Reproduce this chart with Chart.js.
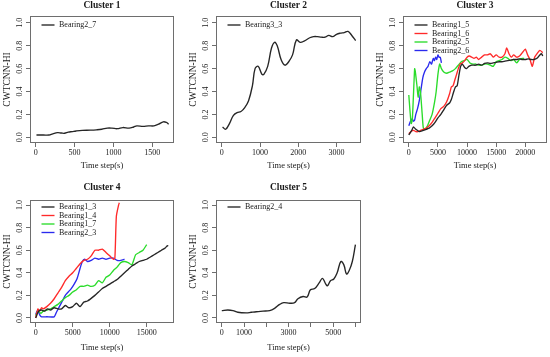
<!DOCTYPE html>
<html>
<head>
<meta charset="utf-8">
<script src="https://cdn.jsdelivr.net/npm/chart.js@4/dist/chart.umd.min.js"></script>
<style>
  html, body { margin: 0; padding: 0; background: #fff; overflow: hidden; }
  canvas { position: absolute; }
</style>
</head>
<body>
<canvas id="c1"></canvas>
<canvas id="c2"></canvas>
<canvas id="c3"></canvas>
<canvas id="c4"></canvas>
<canvas id="c5"></canvas>
<script>
// ---- data ----
const yTicks = [0, 0.2, 0.4, 0.6, 0.8, 1.0];

// Cluster 1
const x1Ticks = [0, 500, 1000, 1500];
const b27x = [10, 100, 170, 220, 280, 330, 370, 420, 470, 520, 600, 700, 780, 850, 920, 980, 1050, 1120, 1200, 1260, 1300, 1380, 1450, 1520, 1580, 1640, 1680, 1710];
const b27y = [0.02, 0.02, 0.02, 0.03, 0.04, 0.037, 0.035, 0.045, 0.05, 0.055, 0.06, 0.062, 0.065, 0.07, 0.08, 0.08, 0.075, 0.085, 0.08, 0.09, 0.1, 0.095, 0.1, 0.1, 0.115, 0.135, 0.13, 0.115];

// Cluster 2
const x2Ticks = [0, 1000, 2000, 3000];
const b33x = [20, 100, 200, 300, 400, 500, 600, 700, 800, 870, 950, 1050, 1100, 1200, 1300, 1380, 1450, 1550, 1650, 1750, 1850, 1950, 2050, 2150, 2300, 2400, 2500, 2600, 2700, 2800, 2900, 3000, 3100, 3200, 3300, 3400, 3500];
const b33y = [0.09, 0.07, 0.12, 0.19, 0.215, 0.225, 0.26, 0.32, 0.45, 0.6, 0.62, 0.55, 0.55, 0.62, 0.78, 0.83, 0.8, 0.68, 0.63, 0.66, 0.72, 0.85, 0.83, 0.84, 0.87, 0.88, 0.88, 0.875, 0.875, 0.89, 0.88, 0.9, 0.91, 0.915, 0.925, 0.89, 0.845];

// Cluster 3
const x3Ticks = [0, 5000, 10000, 15000, 20000];
const b15x = [0, 500, 800, 1200, 1800, 2500, 3000, 3500, 4000, 4500, 5000, 5500, 6000, 6500, 7000, 7300, 7600, 8000, 8300, 8600, 8900, 9200, 9600, 9900, 10300, 10800, 11500, 12000, 12500, 13000, 13500, 14000, 14500, 15000, 15500, 16000, 16500, 17000, 17500, 18000, 18500, 19000, 19500, 20000, 20500, 21000, 21500, 22000, 22500, 22800, 23000];
const b15y = [0.02, 0.06, 0.09, 0.07, 0.05, 0.06, 0.07, 0.08, 0.1, 0.13, 0.17, 0.2, 0.24, 0.28, 0.3, 0.33, 0.38, 0.44, 0.45, 0.54, 0.62, 0.64, 0.61, 0.6, 0.62, 0.63, 0.63, 0.64, 0.63, 0.645, 0.65, 0.645, 0.65, 0.655, 0.66, 0.66, 0.665, 0.67, 0.675, 0.68, 0.68, 0.685, 0.68, 0.68, 0.685, 0.68, 0.68, 0.69, 0.72, 0.73, 0.71];
const b16x = [0, 400, 800, 1200, 1600, 2000, 2500, 3000, 3500, 4000, 4500, 5000, 5500, 6000, 6500, 7000, 7300, 7600, 7900, 8200, 8500, 8800, 9200, 9600, 10000, 10400, 10800, 11200, 11600, 12000, 12500, 13000, 13500, 14000, 14500, 15000, 15500, 16000, 16500, 16800, 17200, 17600, 18000, 18500, 19000, 19500, 20000, 20400, 20800, 21200, 21600, 22000, 22500, 23000];
const b16y = [0.03, 0.05, 0.06, 0.05, 0.05, 0.06, 0.07, 0.08, 0.1, 0.13, 0.17, 0.21, 0.25, 0.27, 0.31, 0.38, 0.44, 0.45, 0.5, 0.55, 0.6, 0.64, 0.65, 0.67, 0.7, 0.71, 0.7, 0.69, 0.7, 0.68, 0.7, 0.72, 0.72, 0.73, 0.7, 0.72, 0.7, 0.7, 0.73, 0.78, 0.73, 0.7, 0.72, 0.7, 0.71, 0.74, 0.77, 0.72, 0.68, 0.62, 0.7, 0.73, 0.76, 0.74];
const b25x = [0, 400, 600, 1000, 1100, 1400, 1600, 1800, 2000, 2300, 2500, 2800, 3200, 3600, 4000, 4400, 4700, 5000, 5300, 5600, 6000, 6500, 7000, 7500, 8000, 8500, 9000, 9500, 10000, 10500, 11000, 11500, 12000, 12500, 13000, 13500, 14000, 14500, 15000, 15500, 16000, 16500, 17000, 17500, 18000, 18500, 19000, 19500, 19800];
const b25y = [0.37, 0.12, 0.15, 0.6, 0.58, 0.45, 0.35, 0.44, 0.4, 0.2, 0.08, 0.07, 0.1, 0.15, 0.2, 0.3, 0.4, 0.55, 0.64, 0.6, 0.57, 0.56, 0.57, 0.58, 0.6, 0.63, 0.66, 0.67, 0.68, 0.65, 0.64, 0.64, 0.63, 0.63, 0.64, 0.64, 0.63, 0.62, 0.66, 0.67, 0.68, 0.7, 0.69, 0.67, 0.68, 0.65, 0.68, 0.69, 0.69];
const b26x = [0, 200, 400, 600, 800, 1000, 1200, 1500, 1800, 2100, 2400, 2700, 3000, 3300, 3600, 3900, 4200, 4400, 4600, 4800, 5000, 5200, 5400, 5600];
const b26y = [0.1, 0.13, 0.15, 0.16, 0.14, 0.15, 0.2, 0.25, 0.32, 0.42, 0.52, 0.57, 0.6, 0.62, 0.66, 0.64, 0.69, 0.67, 0.7, 0.68, 0.72, 0.7, 0.7, 0.65];

// Cluster 4
const x4Ticks = [0, 5000, 10000, 15000];
const b13x = [0, 400, 800, 1200, 1600, 2000, 2500, 3000, 3500, 4000, 4500, 5000, 5500, 6000, 6500, 7000, 8000, 8500, 9000, 9500, 10000, 10500, 11000, 11500, 12000, 12500, 13000, 13500, 14000, 14500, 15000, 15500, 16000, 16500, 17000, 17500, 17800, 17900];
const b13y = [0.0, 0.06, 0.07, 0.06, 0.08, 0.07, 0.09, 0.08, 0.08, 0.11, 0.09, 0.1, 0.13, 0.1, 0.14, 0.15, 0.2, 0.23, 0.26, 0.28, 0.3, 0.32, 0.34, 0.37, 0.4, 0.43, 0.46, 0.48, 0.5, 0.51, 0.52, 0.54, 0.56, 0.58, 0.6, 0.62, 0.64, 0.635];
const b14x = [0, 300, 500, 800, 1000, 1500, 2000, 2500, 3000, 3500, 4000, 4500, 5000, 5500, 6000, 6500, 7000, 7500, 8000, 8500, 9000, 9500, 10000, 10500, 10700, 10900, 11200, 11300];
const b14y = [0.0, 0.08, 0.06, 0.09, 0.08, 0.1, 0.13, 0.17, 0.22, 0.27, 0.33, 0.37, 0.4, 0.44, 0.48, 0.51, 0.52, 0.55, 0.6, 0.6, 0.61, 0.58, 0.55, 0.52, 0.53, 0.9, 1.0, 1.02];
const b17x = [0, 200, 400, 700, 1000, 1500, 2000, 2500, 3000, 3500, 4000, 4500, 5000, 5500, 6000, 6500, 7000, 7500, 8000, 8500, 9000, 9500, 10000, 10500, 11000, 11500, 12000, 12500, 13000, 13500, 14000, 14500, 15000];
const b17y = [0.02, 0.05, 0.06, 0.04, 0.06, 0.07, 0.08, 0.1, 0.12, 0.15, 0.18, 0.2, 0.23, 0.25, 0.28, 0.28, 0.29, 0.28, 0.29, 0.33, 0.31, 0.36, 0.38, 0.42, 0.45, 0.49, 0.5, 0.49, 0.47, 0.56, 0.58, 0.6, 0.65];
const b23x = [0, 200, 400, 600, 800, 1500, 2500, 2800, 3200, 3600, 4000, 4400, 4800, 5200, 5600, 6000, 6300, 6600, 7000, 7500, 8000, 8500, 9000, 9500, 10000, 10500, 11000, 11500, 12000];
const b23y = [0.03, 0.06, 0.05, 0.02, 0.01, 0.01, 0.01, 0.05, 0.1, 0.15, 0.2, 0.23, 0.26, 0.3, 0.35, 0.44, 0.5, 0.52, 0.5, 0.51, 0.53, 0.52, 0.53, 0.52, 0.53, 0.53, 0.51, 0.51, 0.52];

// Cluster 5
const x5Ticks = [0, 1000, 2000, 3000, 4000, 5000, 6000];
const x5Shown = [0, 1000, 3000, 5000];
const b24x = [0, 270, 500, 720, 1100, 1320, 1550, 1850, 2150, 2370, 2600, 2780, 3050, 3270, 3420, 3650, 3830, 3980, 4170, 4370, 4520, 4670, 4745, 4880, 5030, 5180, 5345, 5480, 5600, 5720, 5860, 6000];
const b24y = [0.065, 0.07, 0.065, 0.05, 0.045, 0.05, 0.055, 0.06, 0.065, 0.085, 0.12, 0.135, 0.13, 0.135, 0.17, 0.19, 0.185, 0.25, 0.26, 0.31, 0.35, 0.3, 0.285, 0.33, 0.345, 0.4, 0.5, 0.47, 0.39, 0.42, 0.5, 0.65];

// ---- styling ----
const FONT = '"Liberation Serif", "Times New Roman", serif';
const AXIS = '#6e6e6e';
const INK = '#1a1a1a';
const BLACK = '#262626', RED = '#ff2a2a', GREEN = '#2bdc2b', BLUE = '#2a2aee';

const pts = (xs, ys) => xs.map((x, i) => ({x: x, y: ys[i]}));

const boxPlugin = {
  id: 'box',
  afterDraw(chart) {
    const {ctx, chartArea: a} = chart;
    ctx.save();
    ctx.strokeStyle = AXIS;
    ctx.lineWidth = 1;
    ctx.strokeRect(Math.round(a.left) + 0.5, Math.round(a.top) + 0.5,
                   Math.round(a.right - a.left) - 1, Math.round(a.bottom - a.top) - 1);
    ctx.restore();
  }
};

const legendPlugin = {
  id: 'rlegend',
  afterDatasetsDraw(chart, args, opts) {
    const {ctx, chartArea: a} = chart;
    ctx.save();
    ctx.font = '8px ' + FONT;
    ctx.textBaseline = 'middle';
    chart.data.datasets.forEach((ds, i) => {
      const y = a.top + opts.top + i * opts.step;
      ctx.strokeStyle = ds.borderColor;
      ctx.lineWidth = ds.borderWidth;
      ctx.beginPath();
      ctx.moveTo(a.left + 11.5, y);
      ctx.lineTo(a.left + 24.5, y);
      ctx.stroke();
      ctx.fillStyle = INK;
      ctx.fillText(ds.label, a.left + 29, y);
    });
    ctx.restore();
  }
};

function panel(id, p) {
  const cv = document.getElementById(id);
  const w = 30 + p.boxW + 3, h = 178;
  cv.width = w; cv.height = h;
  cv.style.left = p.left + 'px';
  cv.style.top = p.top + 'px';
  cv.style.width = w + 'px';
  cv.style.height = h + 'px';
  const bottomRow = p.top > 0;
  new Chart(cv, {
    type: 'line',
    data: {
      datasets: p.series.map(s => ({
        label: s.label,
        data: pts(s.x, s.y),
        borderColor: s.color,
        borderWidth: 1.35,
        pointRadius: 0,
        tension: p.tension,
        fill: false
      }))
    },
    options: {
      responsive: false,
      devicePixelRatio: 1,
      animation: false,
      events: [],
      layout: { padding: { left: 0, right: 3, top: 0, bottom: 0 } },
      plugins: {
        legend: { display: false },
        tooltip: { enabled: false },
        title: {
          display: true,
          text: p.title,
          fullSize: false,
          color: INK,
          font: { family: FONT, size: 9.5, weight: 'bold', lineHeight: 1 },
          padding: bottomRow ? { top: 3.75, bottom: 7.75 } : { top: 1.25, bottom: 5.25 }
        },
        rlegend: { top: bottomRow ? 7 : 9, step: 8.5 }
      },
      scales: {
        x: {
          type: 'linear',
          min: p.xMin, max: p.xMax,
          border: { display: false },
          grid: { display: true, drawOnChartArea: false, drawTicks: true, tickLength: 4, color: AXIS },
          ticks: {
            color: INK, font: { family: FONT, size: 8 }, padding: 1,
            autoSkip: false, maxRotation: 0, minRotation: 0,
            callback: v => (p.xShown ? (p.xShown.includes(v) ? String(v) : '') : String(v))
          },
          afterBuildTicks: s => { s.ticks = p.xTicks.map(v => ({value: v})); },
          afterFit: s => { s.height = bottomRow ? 34 : 35; s.paddingLeft = 0; s.paddingRight = 0; },
          title: {
            display: true, text: 'Time step(s)', color: INK,
            font: { family: FONT, size: 8.5, lineHeight: 1 },
            padding: { top: 0, bottom: bottomRow ? 4.75 : 8 }
          }
        },
        y: {
          type: 'linear',
          min: p.yMin, max: p.yMax,
          border: { display: false },
          grid: { display: true, drawOnChartArea: false, drawTicks: true, tickLength: 4, color: AXIS },
          ticks: {
            color: INK, font: { family: FONT, size: 8 }, padding: 1,
            minRotation: 90, maxRotation: 90, crossAlign: 'center',
            callback: v => v.toFixed(1)
          },
          afterBuildTicks: s => { s.ticks = yTicks.map(v => ({value: v})); },
          afterFit: s => { s.width = 30; s.paddingTop = 0; s.paddingBottom = 0; },
          title: {
            display: true, text: 'CWTCNN-HI', color: INK,
            font: { family: FONT, size: 9.5, lineHeight: 1 },
            padding: { top: 2.75, bottom: 0 }
          }
        }
      }
    },
    plugins: [boxPlugin, legendPlugin]
  });
}

panel('c1', { title: 'Cluster 1', left: 0, top: 0, boxW: 144, xMin: -73, xMax: 1778,
  yMin: -0.05, yMax: 1.06, xTicks: x1Ticks, tension: 0.4,
  series: [{ label: 'Bearing2_7', x: b27x, y: b27y, color: BLACK }] });

panel('c2', { title: 'Cluster 2', left: 186, top: 0, boxW: 145, xMin: -152, xMax: 3641,
  yMin: -0.05, yMax: 1.06, xTicks: x2Ticks, tension: 0.4,
  series: [{ label: 'Bearing3_3', x: b33x, y: b33y, color: BLACK }] });

panel('c3', { title: 'Cluster 3', left: 373, top: 0, boxW: 144, xMin: -996, xMax: 23725,
  yMin: -0.05, yMax: 1.06, xTicks: x3Ticks, tension: 0.2,
  series: [
    { label: 'Bearing1_5', x: b15x, y: b15y, color: BLACK },
    { label: 'Bearing1_6', x: b16x, y: b16y, color: RED },
    { label: 'Bearing2_5', x: b25x, y: b25y, color: GREEN },
    { label: 'Bearing2_6', x: b26x, y: b26y, color: BLUE }
  ] });

panel('c4', { title: 'Cluster 4', left: 0, top: 179, boxW: 144, xMin: -770, xMax: 18690,
  yMin: -0.045, yMax: 1.045, xTicks: x4Ticks, tension: 0.2,
  series: [
    { label: 'Bearing1_3', x: b13x, y: b13y, color: BLACK },
    { label: 'Bearing1_4', x: b14x, y: b14y, color: RED },
    { label: 'Bearing1_7', x: b17x, y: b17y, color: GREEN },
    { label: 'Bearing2_3', x: b23x, y: b23y, color: BLUE }
  ] });

panel('c5', { title: 'Cluster 5', left: 186, top: 179, boxW: 145, xMin: -260, xMax: 6250,
  yMin: -0.045, yMax: 1.045, xTicks: x5Ticks, xShown: x5Shown, tension: 0.4,
  series: [{ label: 'Bearing2_4', x: b24x, y: b24y, color: BLACK }] });
</script>
</body>
</html>
